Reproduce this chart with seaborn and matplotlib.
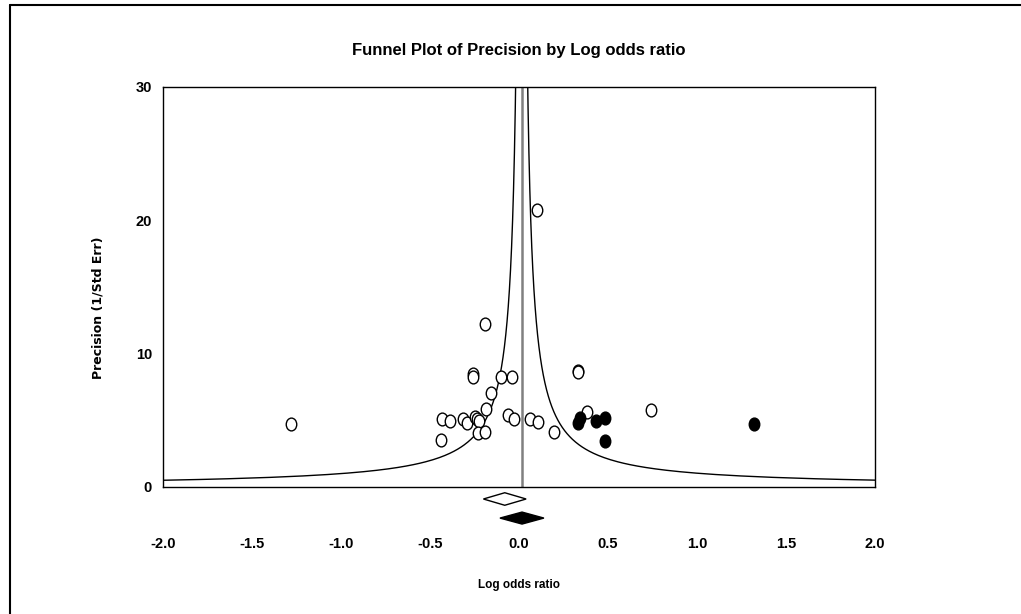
import numpy as np
import pandas as pd
import matplotlib
matplotlib.use("Agg")
import matplotlib.pyplot as plt
import seaborn as sns
from matplotlib import font_manager
from matplotlib.path import Path
from matplotlib.transforms import Affine2D
from matplotlib.lines import Line2D

# ---- data ----
obs_logor = [-1.28, -0.26, -0.26, -0.10, -0.04, -0.157, -0.185, -0.434, -0.39,
             -0.313, -0.29, -0.247, -0.234, -0.225, -0.232, -0.19, -0.06, -0.026,
             -0.44, 0.33, 0.33, 0.062, 0.108, 0.198, 0.38, 0.742, 0.099, -0.19]
obs_prec = [4.73, 8.48, 8.25, 8.27, 8.27, 7.07, 5.83, 5.08, 4.95,
            5.08, 4.78, 5.23, 5.08, 4.95, 4.07, 4.15, 5.40, 5.08,
            3.53, 8.68, 8.62, 5.08, 4.90, 4.15, 5.65, 5.78, 20.78, 12.22]
imp_logor = [0.343, 0.333, 0.433, 0.483, 0.483, 1.32]
imp_prec = [5.15, 4.78, 4.95, 5.20, 3.47, 4.73]

# combined effects: (lower, estimate, upper)
observed_diamond = [-0.20, -0.08, 0.04]
adjusted_diamond = [-0.107, 0.017, 0.14]
center_effect = 0.015
funnel_k = 1.02

x_ticks = [-2.0, -1.5, -1.0, -0.5, 0.0, 0.5, 1.0, 1.5, 2.0]
y_ticks = [0, 10, 20, 30]

# ---- fonts ----
names = {f.name for f in font_manager.fontManager.ttflist}
narrow = "Liberation Sans Narrow" if "Liberation Sans Narrow" in names else "Liberation Sans"

sns.set_theme(style="white")
plt.rcParams["font.family"] = [narrow, "DejaVu Sans"]
plt.rcParams["text.color"] = "black"
plt.rcParams["xtick.color"] = "black"
plt.rcParams["ytick.color"] = "black"

fig = plt.figure(figsize=(10.21, 6.14), dpi=100)
ax = fig.add_axes([163 / 1021, 1 - 487 / 614, (875 - 163) / 1021, (487 - 87) / 614])

df = pd.concat([
    pd.DataFrame({"logor": obs_logor, "prec": obs_prec, "kind": "Observed"}),
    pd.DataFrame({"logor": imp_logor, "prec": imp_prec, "kind": "Imputed"}),
], ignore_index=True)

# elliptical marker (slightly taller than wide)
circ = Path.unit_circle()
ell = Path(Affine2D().scale(0.82, 1.0).transform(circ.vertices), circ.codes)

# funnel
p = np.linspace(0.3, 32, 600)
funnel = pd.DataFrame({
    "prec": np.concatenate([p, p]),
    "x": np.concatenate([center_effect - funnel_k / p, center_effect + funnel_k / p]),
    "side": ["left"] * len(p) + ["right"] * len(p),
})
for side, sub in funnel.groupby("side"):
    ax.plot(sub["x"], sub["prec"], color="black", lw=1.0, zorder=2)

ax.plot([center_effect, center_effect], [0, 30], color="#808080", lw=1.8, zorder=1)

sns.scatterplot(data=df[df.kind == "Observed"], x="logor", y="prec", ax=ax,
                marker=ell, s=85, facecolor="white", edgecolor="black",
                linewidth=1.0, zorder=4, legend=False)
sns.scatterplot(data=df[df.kind == "Imputed"], x="logor", y="prec", ax=ax,
                marker=ell, s=85, color="black", edgecolor="black",
                linewidth=1.0, zorder=5, legend=False)

# diamonds below the axis
def diamond(vals, yc, h, fc):
    lo, est, hi = vals
    ax.fill([lo, est, hi, est], [yc, yc + h, yc, yc - h], facecolor=fc,
            edgecolor="black", lw=1.0, clip_on=False, zorder=6)

diamond(observed_diamond, -0.9, 0.47, "white")
diamond(adjusted_diamond, -2.33, 0.45, "black")

ax.set_xlim(-2.0, 2.0)
ax.set_ylim(0, 30)
ax.set_xticks(x_ticks)
ax.set_xticklabels([f"{t:.1f}" for t in x_ticks])
ax.set_yticks(y_ticks)
ax.set_yticklabels([str(t) for t in y_ticks])
ax.tick_params(axis="x", direction="in", length=4, width=1, pad=36,
               labelsize=10.5, colors="black")
ax.tick_params(axis="y", direction="in", length=0, width=1, pad=8,
               labelsize=10.5, colors="black")
for lab in ax.get_xticklabels() + ax.get_yticklabels():
    lab.set_fontweight("bold")
for sp in ax.spines.values():
    sp.set_visible(True)
    sp.set_color("black")
    sp.set_linewidth(1.0)
ax.set_xlabel("")
ax.set_ylabel("")

fig.text(519 / 1021, 1 - 51 / 614, "Funnel Plot of Precision by Log odds ratio",
         ha="center", va="center", fontsize=12, fontweight="bold",
         color="black", family=[narrow, "DejaVu Sans"])
fig.text(519 / 1021, 1 - 585 / 614, "Log odds ratio", ha="center", va="center",
         fontsize=8.5, fontweight="bold", color="black", family=[narrow, "DejaVu Sans"])
fig.text(98 / 1021, 1 - 308 / 614, "Precision (1/Std Err)", ha="center", va="center",
         rotation=90, fontsize=9, fontweight="bold", color="black", family=["DejaVu Sans"])

# outer frame lines (top and left)
fig.add_artist(Line2D([10 / 1021, 1.0], [1 - 5 / 614, 1 - 5 / 614], color="black", lw=1.5,
                      transform=fig.transFigure))
fig.add_artist(Line2D([10 / 1021, 10 / 1021], [0.0, 1 - 5 / 614], color="black", lw=1.5,
                      transform=fig.transFigure))

fig.savefig("out.png", dpi=100, facecolor="white")
